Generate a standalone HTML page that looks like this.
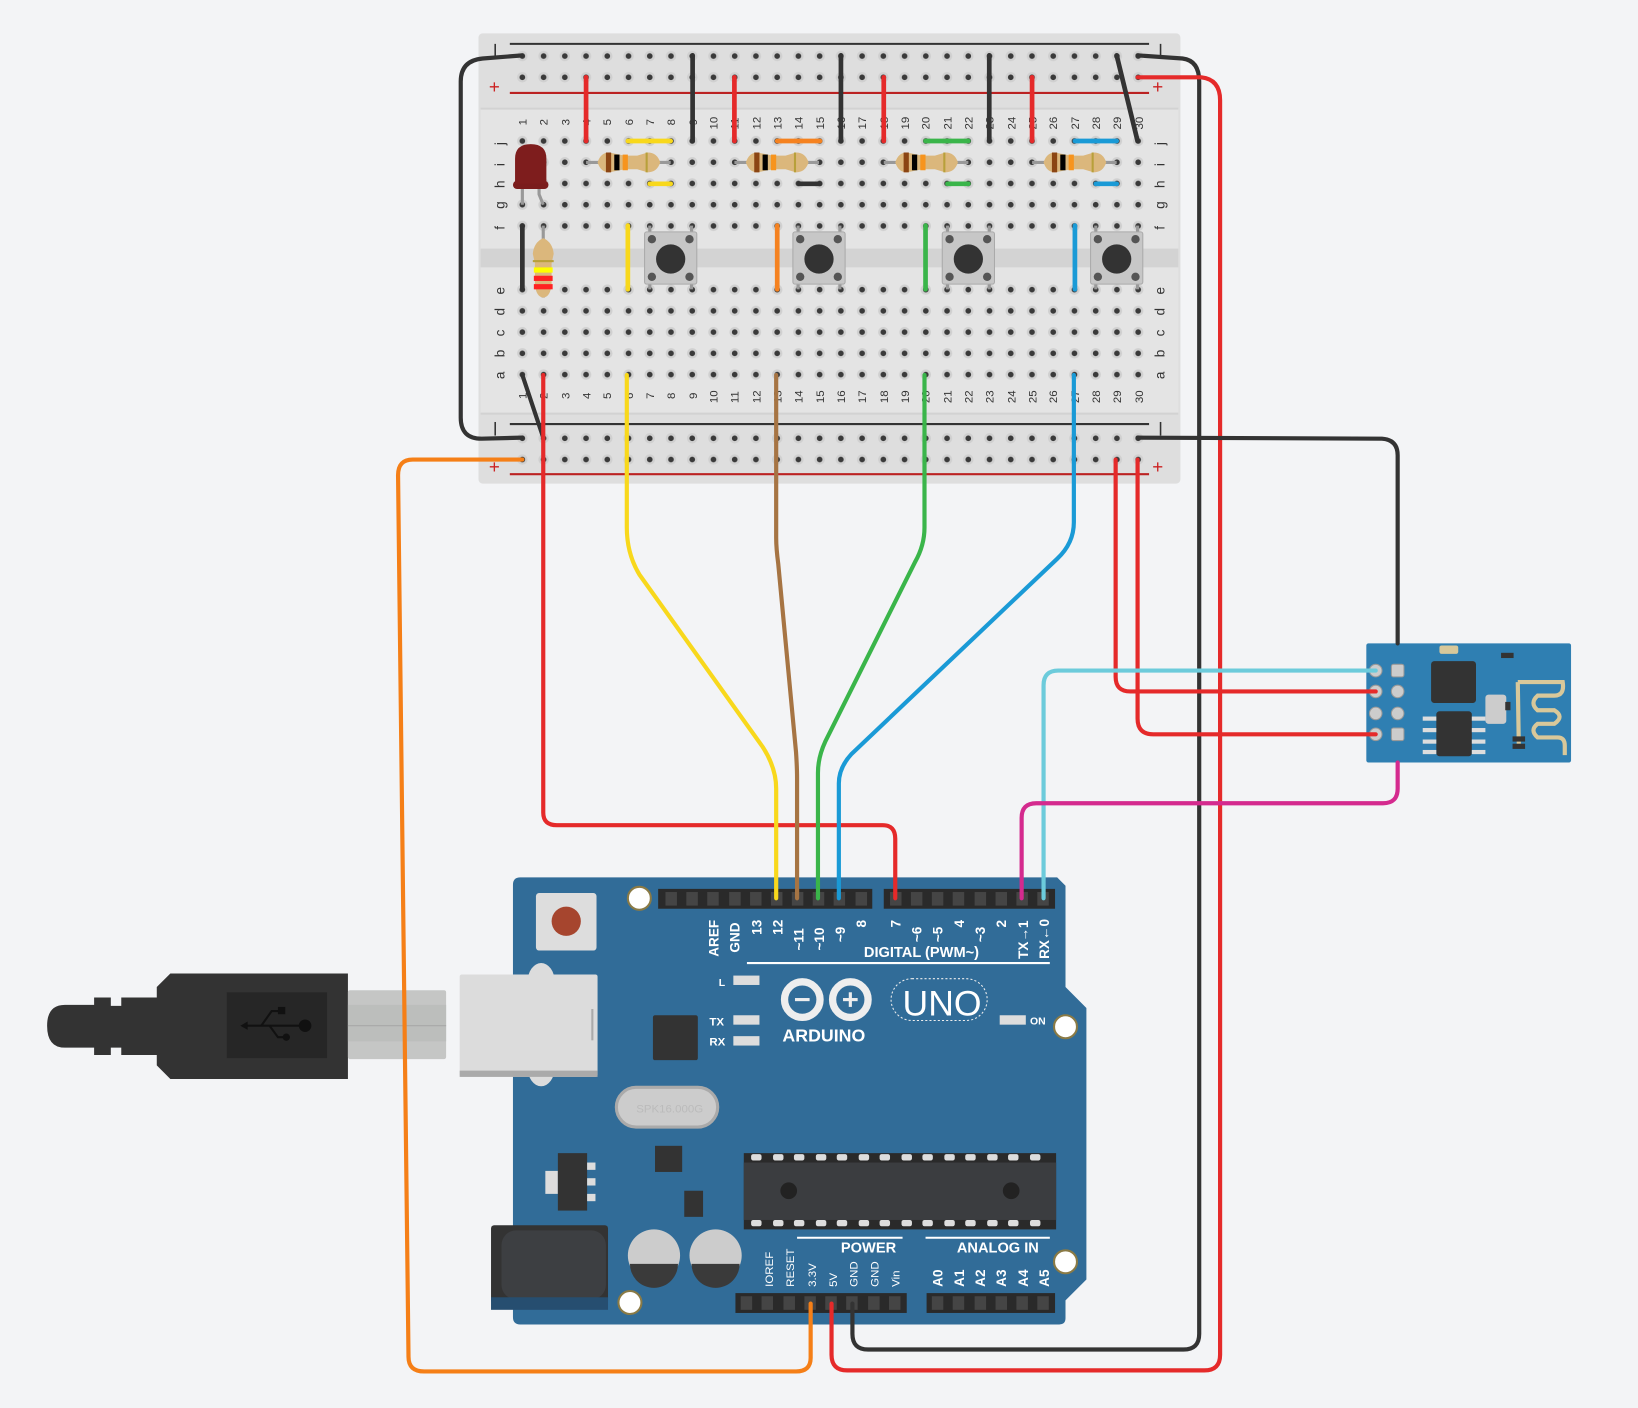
<!DOCTYPE html>
<html><head><meta charset="utf-8"><style>
html,body{margin:0;padding:0;background:#f3f4f6;}
svg{display:block}
text{font-family:"Liberation Sans",sans-serif}
</style></head><body>
<svg width="1638" height="1408" viewBox="0 0 1568 1348" xmlns="http://www.w3.org/2000/svg">
<defs>
<pattern id="h1" x="489.83" y="124.83" width="20.33" height="20.33" patternUnits="userSpaceOnUse">
<circle cx="10.17" cy="10.17" r="5" fill="#d0d0d0"/><circle cx="10.17" cy="10.17" r="2.7" fill="#3a3a3a"/></pattern>
</defs>
<rect width="1568" height="1348" fill="#f3f4f6"/>

<!-- breadboard -->
<rect x="458" y="32" width="672" height="431" rx="4" fill="#dedede"/>
<rect x="460" y="104" width="668" height="292" fill="#e4e4e4"/>
<rect x="460" y="238" width="668" height="18" fill="#d3d3d3"/>
<line x1="460" y1="104" x2="1128" y2="104" stroke="#d2d2d2" stroke-width="2"/>
<line x1="460" y1="396" x2="1128" y2="396" stroke="#d2d2d2" stroke-width="2"/>
<line x1="488" y1="42" x2="1100" y2="42" stroke="#333" stroke-width="2"/>
<line x1="488" y1="89" x2="1100" y2="89" stroke="#b22" stroke-width="2"/>
<line x1="488" y1="406" x2="1100" y2="406" stroke="#333" stroke-width="2"/>
<line x1="488" y1="454" x2="1100" y2="454" stroke="#b22" stroke-width="2"/>
<g fill="#c22" font-size="18"><text x="468" y="89">+</text><text x="1103" y="89">+</text><text x="468" y="453">+</text><text x="1103" y="453">+</text></g>
<g stroke="#333" stroke-width="1.5"><line x1="474" y1="42" x2="474" y2="55"/><line x1="1111" y1="42" x2="1111" y2="55"/><line x1="474" y1="404" x2="474" y2="417"/><line x1="1111" y1="404" x2="1111" y2="417"/></g>
<!-- holes -->
<rect x="489.83" y="42.5" width="610" height="40.66" fill="url(#h1)"/>
<rect x="489.83" y="124.83" width="610" height="101.65" fill="url(#h1)"/>
<rect x="489.83" y="267.1" width="610" height="101.65" fill="url(#h1)"/>
<rect x="489.83" y="408.5" width="610" height="40.66" fill="url(#h1)"/>
<!-- column numbers -->
<g font-size="11" fill="#333">
<g id="nums">
<text transform="translate(504,120) rotate(-90)">1</text><text transform="translate(524,120) rotate(-90)">2</text><text transform="translate(545,120) rotate(-90)">3</text><text transform="translate(565,120) rotate(-90)">4</text><text transform="translate(585,120) rotate(-90)">5</text><text transform="translate(606,120) rotate(-90)">6</text><text transform="translate(626,120) rotate(-90)">7</text><text transform="translate(646,120) rotate(-90)">8</text><text transform="translate(667,120) rotate(-90)">9</text><text transform="translate(687,124) rotate(-90)">10</text><text transform="translate(707,124) rotate(-90)">11</text><text transform="translate(728,124) rotate(-90)">12</text><text transform="translate(748,124) rotate(-90)">13</text><text transform="translate(768,124) rotate(-90)">14</text><text transform="translate(789,124) rotate(-90)">15</text><text transform="translate(809,124) rotate(-90)">16</text><text transform="translate(829,124) rotate(-90)">17</text><text transform="translate(850,124) rotate(-90)">18</text><text transform="translate(870,124) rotate(-90)">19</text><text transform="translate(890,124) rotate(-90)">20</text><text transform="translate(911,124) rotate(-90)">21</text><text transform="translate(931,124) rotate(-90)">22</text><text transform="translate(951,124) rotate(-90)">23</text><text transform="translate(972,124) rotate(-90)">24</text><text transform="translate(992,124) rotate(-90)">25</text><text transform="translate(1012,124) rotate(-90)">26</text><text transform="translate(1033,124) rotate(-90)">27</text><text transform="translate(1053,124) rotate(-90)">28</text><text transform="translate(1073,124) rotate(-90)">29</text><text transform="translate(1094,124) rotate(-90)">30</text>
</g>
<use href="#nums" transform="translate(0,262)"/>
</g>
<g font-size="13" fill="#333">
<g id="lets">
<text transform="translate(483,139) rotate(-90)">j</text><text transform="translate(483,159) rotate(-90)">i</text><text transform="translate(483,180) rotate(-90)">h</text><text transform="translate(483,200) rotate(-90)">g</text><text transform="translate(483,220) rotate(-90)">f</text>
<text transform="translate(483,282) rotate(-90)">e</text><text transform="translate(483,302) rotate(-90)">d</text><text transform="translate(483,322) rotate(-90)">c</text><text transform="translate(483,342) rotate(-90)">b</text><text transform="translate(483,363) rotate(-90)">a</text>
</g>
<use href="#lets" transform="translate(632,0)"/>
</g>

<!-- breadboard short wires -->
<g stroke-width="4.5" stroke-linecap="round" fill="none">
<g stroke="#e52a2a"><line x1="561" y1="74" x2="561" y2="135"/><line x1="703" y1="74" x2="703" y2="135"/><line x1="846" y1="74" x2="846" y2="135"/><line x1="988" y1="74" x2="988" y2="135"/></g>
<g stroke="#333"><line x1="663" y1="53" x2="663" y2="135"/><line x1="805" y1="53" x2="805" y2="135"/><line x1="947" y1="53" x2="947" y2="135"/><line x1="1069" y1="53" x2="1089" y2="135"/><line x1="500" y1="216" x2="500" y2="277"/><line x1="765" y1="176" x2="785" y2="176"/></g>
<g stroke="#f8d81c"><line x1="601" y1="135" x2="642" y2="135"/><line x1="622" y1="176" x2="642" y2="176"/><line x1="601" y1="216" x2="601" y2="277"/></g>
<g stroke="#f58220"><line x1="744" y1="135" x2="785" y2="135"/><line x1="744" y1="216" x2="744" y2="277"/></g>
<g stroke="#3ab54a"><line x1="886" y1="135" x2="927" y2="135"/><line x1="907" y1="176" x2="927" y2="176"/><line x1="886" y1="216" x2="886" y2="277"/></g>
<g stroke="#1a9ad6"><line x1="1029" y1="135" x2="1069" y2="135"/><line x1="1049" y1="176" x2="1069" y2="176"/><line x1="1029" y1="216" x2="1029" y2="277"/></g>
</g>
<!-- resistors -->
<g id="res">
<line x1="561" y1="155.5" x2="642" y2="155.5" stroke="#999" stroke-width="3"/>
<path d="M572,155.5 Q575,146 583,146 L598,149 L610,149 L620,146 Q629,146 632,155.5 Q629,165 620,165 L610,162 L598,162 L583,165 Q575,165 572,155.5Z" fill="#dbb77c"/>
<rect x="580" y="146" width="5" height="19" fill="#8b4513"/><rect x="588" y="148" width="5" height="15" fill="#000"/><rect x="596" y="148" width="5" height="15" fill="#f7941d"/><rect x="618" y="146" width="2" height="19" fill="#b8a03a"/>
</g>
<use href="#res" transform="translate(142,0)"/><use href="#res" transform="translate(285,0)"/><use href="#res" transform="translate(427,0)"/>
<!-- vertical resistor -->
<line x1="520" y1="216" x2="520" y2="285" stroke="#999" stroke-width="3"/>
<path d="M520,228 Q529,232 530,243 L528,252 L528,272 Q527,284 520,285 Q513,284 512,272 L512,252 L510,243 Q511,232 520,228Z" fill="#dbb77c"/>
<rect x="510" y="249" width="20" height="2" fill="#b8a03a"/><rect x="511" y="256" width="18" height="5" fill="#ff0"/><rect x="511" y="264" width="18" height="5" fill="#f22"/><rect x="511" y="272" width="18" height="5" fill="#f22"/>
<!-- LED -->
<g stroke="#999" stroke-width="3" fill="none"><line x1="500" y1="175" x2="500" y2="196"/><path d="M516,175 L516,186 L520,196"/></g>
<rect x="491" y="173" width="34" height="8" rx="4" fill="#7a1c1c"/>
<path d="M493,176 L493,152 Q493,138 508,138 Q523,138 523,152 L523,176Z" fill="#7e1d1d"/>
<!-- buttons -->
<g id="btn">
<g stroke="#999" stroke-width="3"><line x1="622" y1="216" x2="622" y2="277"/><line x1="662" y1="216" x2="662" y2="277"/></g>
<rect x="617" y="222" width="50" height="50" rx="2" fill="#c7c7c7" stroke="#aaa"/>
<circle cx="624" cy="229" r="4" fill="#555"/><circle cx="660" cy="229" r="4" fill="#555"/><circle cx="624" cy="265" r="4" fill="#555"/><circle cx="660" cy="265" r="4" fill="#555"/>
<circle cx="642" cy="248" r="14" fill="#333"/>
</g>
<use href="#btn" transform="translate(142,0)"/><use href="#btn" transform="translate(285,0)"/><use href="#btn" transform="translate(427,0)"/>

<!-- USB cable -->
<path d="M62,962 L90,962 L90,955 L106,955 L106,963 L116,963 L116,955 L150,955 L150,945 L163,932 L333,932 L333,1033 L163,1033 L150,1020 L150,1010 L116,1010 L116,1003 L106,1003 L106,1010 L90,1010 L90,1003 L62,1003 Q45,1003 45,982 Q45,962 62,962Z" fill="#333"/>
<rect x="217" y="950" width="96" height="63" fill="#262626"/>
<g stroke="#111" stroke-width="2" fill="none"><line x1="232" y1="982" x2="290" y2="982"/><path d="M250,982 L260,968 L268,968"/><path d="M258,982 L266,993 L276,993"/></g>
<circle cx="292" cy="982" r="6" fill="#111"/><circle cx="274" cy="993" r="3.5" fill="#111"/><rect x="266" y="964" width="7" height="7" fill="#111"/><path d="M230,982 L237,978 L237,986Z" fill="#111"/>
<rect x="333" y="948" width="94" height="66" rx="2" fill="#c5c6c5"/>
<rect x="333" y="962" width="94" height="35" fill="#bcbebc"/>
<line x1="333" y1="982" x2="427" y2="982" stroke="#a8a8a8"/>

<!-- Arduino -->
<path d="M498,840 L1012,840 L1020,848 L1020,945 L1040,965 L1040,1225 L1020,1245 L1020,1262 Q1020,1268 1014,1268 L498,1268 Q491,1268 491,1261 L491,847 Q491,840 498,840Z" fill="#316c98"/>
<rect x="513" y="855" width="58" height="55" rx="3" fill="#ddd"/><circle cx="542" cy="882" r="14" fill="#a6452e"/>
<ellipse cx="518" cy="940" rx="13" ry="18" fill="#dcdcdc"/><ellipse cx="518" cy="1022" rx="13" ry="18" fill="#dcdcdc"/>
<rect x="440" y="933" width="132" height="98" rx="2" fill="#dcdcdc"/><rect x="440" y="1025" width="132" height="6" fill="#aaa"/>
<line x1="567" y1="966" x2="567" y2="996" stroke="#aaa" stroke-width="2"/>
<g fill="#fff" stroke="#8a7a45" stroke-width="2"><circle cx="612" cy="860" r="11"/><circle cx="1020" cy="983" r="11"/><circle cx="1020" cy="1208" r="11"/><circle cx="603" cy="1247" r="11"/></g>
<!-- headers -->
<rect x="630" y="851" width="205" height="19" fill="#2a2a2a"/><rect x="846" y="851" width="164" height="19" fill="#2a2a2a"/>
<rect x="704" y="1238" width="164" height="19" fill="#2a2a2a"/><rect x="887" y="1238" width="123" height="19" fill="#2a2a2a"/>
<g fill="#454545" id="pins">
<rect x="637" y="854" width="11" height="13"/><rect x="657" y="854" width="11" height="13"/><rect x="677" y="854" width="11" height="13"/><rect x="698" y="854" width="11" height="13"/><rect x="718" y="854" width="11" height="13"/><rect x="738" y="854" width="11" height="13"/><rect x="758" y="854" width="11" height="13"/><rect x="778" y="854" width="11" height="13"/><rect x="798" y="854" width="11" height="13"/><rect x="819" y="854" width="11" height="13"/>
<rect x="852" y="854" width="11" height="13"/><rect x="872" y="854" width="11" height="13"/><rect x="892" y="854" width="11" height="13"/><rect x="912" y="854" width="11" height="13"/><rect x="933" y="854" width="11" height="13"/><rect x="953" y="854" width="11" height="13"/><rect x="973" y="854" width="11" height="13"/><rect x="993" y="854" width="11" height="13"/>
<rect x="709" y="1241" width="11" height="13"/><rect x="729" y="1241" width="11" height="13"/><rect x="750" y="1241" width="11" height="13"/><rect x="770" y="1241" width="11" height="13"/><rect x="790" y="1241" width="11" height="13"/><rect x="810" y="1241" width="11" height="13"/><rect x="831" y="1241" width="11" height="13"/><rect x="851" y="1241" width="11" height="13"/>
<rect x="892" y="1241" width="11" height="13"/><rect x="912" y="1241" width="11" height="13"/><rect x="933" y="1241" width="11" height="13"/><rect x="953" y="1241" width="11" height="13"/><rect x="973" y="1241" width="11" height="13"/><rect x="993" y="1241" width="11" height="13"/>
</g>
<g fill="#fff" font-size="13" font-weight="bold">
<text transform="translate(688,916) rotate(-90)">AREF</text><text transform="translate(708,912) rotate(-90)">GND</text><text transform="translate(729,895) rotate(-90)">13</text><text transform="translate(749,895) rotate(-90)">12</text><text transform="translate(769,910) rotate(-90)">~11</text><text transform="translate(789,910) rotate(-90)">~10</text><text transform="translate(809,902) rotate(-90)">~9</text><text transform="translate(829,888) rotate(-90)">8</text>
<text transform="translate(862,888) rotate(-90)">7</text><text transform="translate(882,902) rotate(-90)">~6</text><text transform="translate(902,902) rotate(-90)">~5</text><text transform="translate(923,888) rotate(-90)">4</text><text transform="translate(943,902) rotate(-90)">~3</text><text transform="translate(963,888) rotate(-90)">2</text><text transform="translate(984,918) rotate(-90)">TX→1</text><text transform="translate(1004,918) rotate(-90)">RX←0</text>
<text x="827" y="916" font-size="14">DIGITAL (PWM~)</text>
<text x="805" y="1199" font-size="14">POWER</text><text x="916" y="1199" font-size="14">ANALOG IN</text>
<text transform="translate(902,1232) rotate(-90)">A0</text><text transform="translate(923,1232) rotate(-90)">A1</text><text transform="translate(943,1232) rotate(-90)">A2</text><text transform="translate(963,1232) rotate(-90)">A3</text><text transform="translate(984,1232) rotate(-90)">A4</text><text transform="translate(1004,1232) rotate(-90)">A5</text>
<text x="749" y="997" font-size="17">ARDUINO</text>
<text x="688" y="944" font-size="10">L</text><text x="679" y="982" font-size="11">TX</text><text x="679" y="1001" font-size="11">RX</text><text x="986" y="981" font-size="10">ON</text>
</g>
<g fill="#fff" font-size="11">
<text transform="translate(740,1232) rotate(-90)">IOREF</text><text transform="translate(760,1232) rotate(-90)">RESET</text><text transform="translate(781,1232) rotate(-90)">3.3V</text><text transform="translate(801,1232) rotate(-90)">5V</text><text transform="translate(821,1232) rotate(-90)">GND</text><text transform="translate(841,1232) rotate(-90)">GND</text><text transform="translate(861,1232) rotate(-90)">Vin</text>
</g>
<line x1="715" y1="922" x2="1005" y2="922" stroke="#fff" stroke-width="2"/>
<line x1="763" y1="1185" x2="864" y2="1185" stroke="#fff" stroke-width="2"/><line x1="886" y1="1185" x2="1005" y2="1185" stroke="#fff" stroke-width="2"/>
<!-- logo -->
<g fill="none" stroke="#eee" stroke-width="7"><circle cx="768" cy="957" r="17"/><circle cx="814" cy="957" r="17"/></g>
<g stroke="#eee" stroke-width="3"><line x1="761" y1="957" x2="775" y2="957"/><line x1="807" y1="957" x2="821" y2="957"/><line x1="814" y1="950" x2="814" y2="964"/></g>
<rect x="853" y="937" width="92" height="40" rx="20" fill="none" stroke="#eee" stroke-dasharray="2 2"/>
<text x="864" y="972" fill="#fff" font-size="34">UNO</text>
<g fill="#ddd"><rect x="702" y="934" width="25" height="9"/><rect x="702" y="972" width="25" height="9"/><rect x="702" y="992" width="25" height="9"/><rect x="957" y="972" width="25" height="9"/></g>
<rect x="625" y="972" width="43" height="43" rx="2" fill="#333"/>
<rect x="590" y="1041" width="97" height="38" rx="19" fill="#ccc" stroke="#aaa" stroke-width="3"/>
<text x="609" y="1065" fill="#bbb" font-size="11">SPK16.000G</text>
<rect x="627" y="1097" width="26" height="25" fill="#333"/>
<rect x="522" y="1121" width="12" height="22" fill="#ddd"/><rect x="534" y="1104" width="28" height="55" fill="#333"/>
<g fill="#ddd"><rect x="562" y="1113" width="8" height="7"/><rect x="562" y="1128" width="8" height="7"/><rect x="562" y="1143" width="8" height="7"/></g>
<rect x="655" y="1140" width="18" height="25" fill="#333"/>
<rect x="712" y="1104" width="299" height="73" fill="#2a2a2a"/><rect x="712" y="1113" width="299" height="55" fill="#3b3d40"/>
<g fill="#ddd" id="icp"><rect x="719" y="1105" width="10" height="6" rx="2"/><rect x="740" y="1105" width="10" height="6" rx="2"/><rect x="760" y="1105" width="10" height="6" rx="2"/><rect x="781" y="1105" width="10" height="6" rx="2"/><rect x="801" y="1105" width="10" height="6" rx="2"/><rect x="822" y="1105" width="10" height="6" rx="2"/><rect x="842" y="1105" width="10" height="6" rx="2"/><rect x="863" y="1105" width="10" height="6" rx="2"/><rect x="883" y="1105" width="10" height="6" rx="2"/><rect x="904" y="1105" width="10" height="6" rx="2"/><rect x="924" y="1105" width="10" height="6" rx="2"/><rect x="945" y="1105" width="10" height="6" rx="2"/><rect x="965" y="1105" width="10" height="6" rx="2"/><rect x="986" y="1105" width="10" height="6" rx="2"/></g>
<use href="#icp" transform="translate(0,63)"/>
<circle cx="755" cy="1140" r="8" fill="#222"/><circle cx="968" cy="1140" r="8" fill="#222"/>
<rect x="470" y="1173" width="112" height="75" rx="3" fill="#333"/><rect x="480" y="1178" width="100" height="66" rx="14" fill="#3d3f42"/><rect x="470" y="1242" width="112" height="12" fill="#264e70"/>
<g><circle cx="626" cy="1202" r="25" fill="#ccc"/><path d="M603,1210 L649,1210 A23,23 0 0 1 603,1210Z" fill="#3a3a3a"/><circle cx="685" cy="1202" r="25" fill="#ccc"/><path d="M662,1210 L708,1210 A23,23 0 0 1 662,1210Z" fill="#3a3a3a"/></g>

<!-- ESP module -->
<rect x="1308" y="616" width="196" height="114" rx="2" fill="#2f7fb2"/>
<g fill="#ccc" stroke="#999"><circle cx="1317" cy="642" r="6"/><circle cx="1317" cy="662" r="6"/><circle cx="1317" cy="683" r="6"/><circle cx="1317" cy="703" r="6"/><circle cx="1338" cy="662" r="6"/><circle cx="1338" cy="683" r="6"/><rect x="1332" y="636" width="12" height="12" rx="2"/><rect x="1332" y="697" width="12" height="12" rx="2"/></g>
<rect x="1370" y="633" width="43" height="40" rx="3" fill="#333"/>
<rect x="1375" y="681" width="34" height="43" rx="3" fill="#333"/>
<g fill="#ddd"><rect x="1362" y="686" width="13" height="4"/><rect x="1362" y="697" width="13" height="4"/><rect x="1362" y="708" width="13" height="4"/><rect x="1362" y="718" width="13" height="4"/><rect x="1409" y="686" width="13" height="4"/><rect x="1409" y="697" width="13" height="4"/><rect x="1409" y="708" width="13" height="4"/><rect x="1409" y="718" width="13" height="4"/></g>
<rect x="1378" y="618" width="18" height="8" rx="2" fill="#d8c89a"/>
<rect x="1422" y="665" width="20" height="28" rx="3" fill="#ccc"/>
<path d="M1453,653 L1454,715 M1453,653 L1496,653 Q1498,666 1488,666 L1472,666 Q1464,673 1472,680 L1488,680 Q1498,686 1488,693 L1472,693 Q1464,699 1472,706 L1491,706 Q1498,706 1498,714 L1498,723" fill="none" stroke="#d8c89a" stroke-width="4"/>
<g fill="#333"><rect x="1437" y="625" width="12" height="5"/><rect x="1441" y="672" width="5" height="8"/><rect x="1448" y="705" width="12" height="5"/><rect x="1448" y="712" width="12" height="5"/></g>
<!-- wires -->
<g fill="none" stroke-width="4" stroke-linecap="round" stroke-linejoin="round">
<path d="M500,53 L462,56 Q441,58 441,78 L441,400 Q441,420 461,420 L500,419" stroke="#333"/>
<path d="M500,359 L520,419" stroke="#333"/>
<path d="M520,359 L520,778 Q520,790 533,790 L845,790 Q857,790 857,803 L857,860" stroke="#e52a2a"/>
<path d="M500,440 L395,440 Q381,440 381,455 L391,1299 Q391,1313 406,1313 L762,1313 Q776,1313 776,1300 L776,1248" stroke="#f57f17"/>
<path d="M600,359 L600,505 Q600,530 612,550 L730,715 Q743,735 743,755 L743,860" stroke="#f8d81c"/>
<path d="M743,359 L743,515 Q743,525 745,540 L762,720 Q763,735 763,745 L763,860" stroke="#a67443"/>
<path d="M885,359 L885,505 Q885,522 876,538 L790,710 Q783,725 783,740 L783,860" stroke="#3ab54a"/>
<path d="M1028,359 L1028,500 Q1028,520 1012,535 L815,722 Q803,735 803,750 L803,860" stroke="#1a9ad6"/>
<path d="M1089,53 L1132,56 Q1148,58 1148,78 L1148,1277 Q1148,1292 1133,1292 L831,1292 Q816,1292 816,1277 L816,1248" stroke="#333"/>
<path d="M1089,74 L1150,74 Q1168,76 1168,96 L1168,1297 Q1168,1312 1153,1312 L811,1312 Q796,1312 796,1297 L796,1248" stroke="#e52a2a"/>
<path d="M1089,419 L1323,420 Q1338,421 1338,436 L1338,616" stroke="#333"/>
<path d="M1068,440 L1068,648 Q1068,662 1082,662 L1317,662" stroke="#e52a2a"/>
<path d="M1089,440 L1089,688 Q1089,703 1104,703 L1317,703" stroke="#e52a2a"/>
<path d="M1317,642 L1013,642 Q999,642 999,656 L999,860" stroke="#6ccbdb"/>
<path d="M1338,730 L1338,755 Q1338,769 1324,769 L992,769 Q978,769 978,783 L978,860" stroke="#d42a8e"/>
</g>
</svg>
</body></html>
